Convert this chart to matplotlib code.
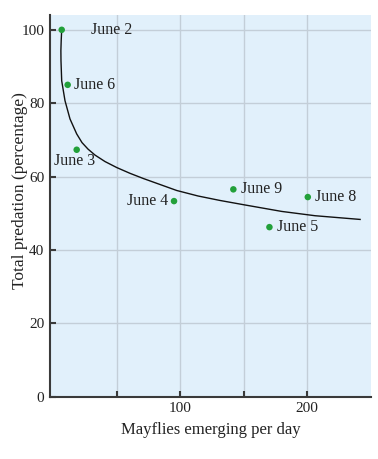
import matplotlib
matplotlib.use("Agg")
import matplotlib.pyplot as plt

# Data
labels = ["June 2", "June 6", "June 3", "June 4", "June 9", "June 8", "June 5"]
mayflies = [6.7, 11.4, 18.5, 95.1, 141.8, 200.4, 170.2]
predation = [100.0, 85.0, 67.3, 53.3, 56.5, 54.4, 46.2]

# Fitted curve
curve_x = [6.69, 6.30, 6.06, 6.14, 6.69, 9.29, 13.23, 18.50, 22.68, 27.40, 32.91,
           40.79, 50.00, 60.47, 70.94, 97.24, 114.02, 131.34, 151.02, 179.92,
           206.14, 241.57]
curve_y = [99.92, 97.01, 94.29, 91.56, 86.12, 80.68, 75.70, 71.62, 69.25, 67.48, 65.85,
           64.08, 62.45, 60.87, 59.46, 56.19, 54.69, 53.47, 52.24, 50.48,
           49.31, 48.30]

x_ticks = [50, 100, 150, 200]
x_ticklabels = ["", "100", "", "200"]
y_ticks = [0, 20, 40, 60, 80, 100]

# Label offsets (points) and alignment
label_offsets = {
    "June 2": ((21, 0), "left", "center"),
    "June 6": ((4.5, 0), "left", "center"),
    "June 3": ((-1.5, -8), "center", "center"),
    "June 4": ((-4.5, 0), "right", "center"),
    "June 9": ((5.5, 0), "left", "center"),
    "June 8": ((5.3, 0), "left", "center"),
    "June 5": ((5.5, 0), "left", "center"),
}

plt.rcParams["font.family"] = ["Liberation Serif", "DejaVu Serif"]

fig = plt.figure(figsize=(3.78, 4.59), dpi=100)
ax = fig.add_axes([0.1323, 0.136, 0.981 - 0.1323, 0.967 - 0.136])
ax.set_facecolor("#e1f0fb")

ax.set_xlim(-2.5, 250)
ax.set_ylim(0, 104)

ax.set_xticks(x_ticks)
ax.set_xticklabels(x_ticklabels)
ax.set_yticks(y_ticks)
ax.grid(True, color="#c3ced8", linewidth=1.0)
ax.set_axisbelow(True)

for s in ["top", "right"]:
    ax.spines[s].set_visible(False)
for s in ["left", "bottom"]:
    ax.spines[s].set_color("#3a3a3a")
    ax.spines[s].set_linewidth(1.5)

ax.tick_params(axis="both", direction="in", length=4, width=1.5, color="#3a3a3a",
               labelsize=11, labelcolor="#222222", pad=4)

ax.plot(curve_x, curve_y, color="#111111", linewidth=1.0, zorder=3,
        solid_joinstyle="round")
ax.scatter(mayflies, predation, s=22, color="#22a03a", zorder=4, edgecolors="none")

for lab, x, y in zip(labels, mayflies, predation):
    off, ha, va = label_offsets[lab]
    ax.annotate(lab, (x, y), xytext=off, textcoords="offset points",
                ha=ha, va=va, fontsize=11.5, color="#222222", zorder=5)

ax.set_xlabel("Mayflies emerging per day", fontsize=12, color="#222222", labelpad=5)
ax.set_ylabel("Total predation (percentage)", fontsize=12.5, color="#222222")
ax.yaxis.set_label_coords(-0.0685, 0.541)

fig.savefig("out.png", dpi=100)
